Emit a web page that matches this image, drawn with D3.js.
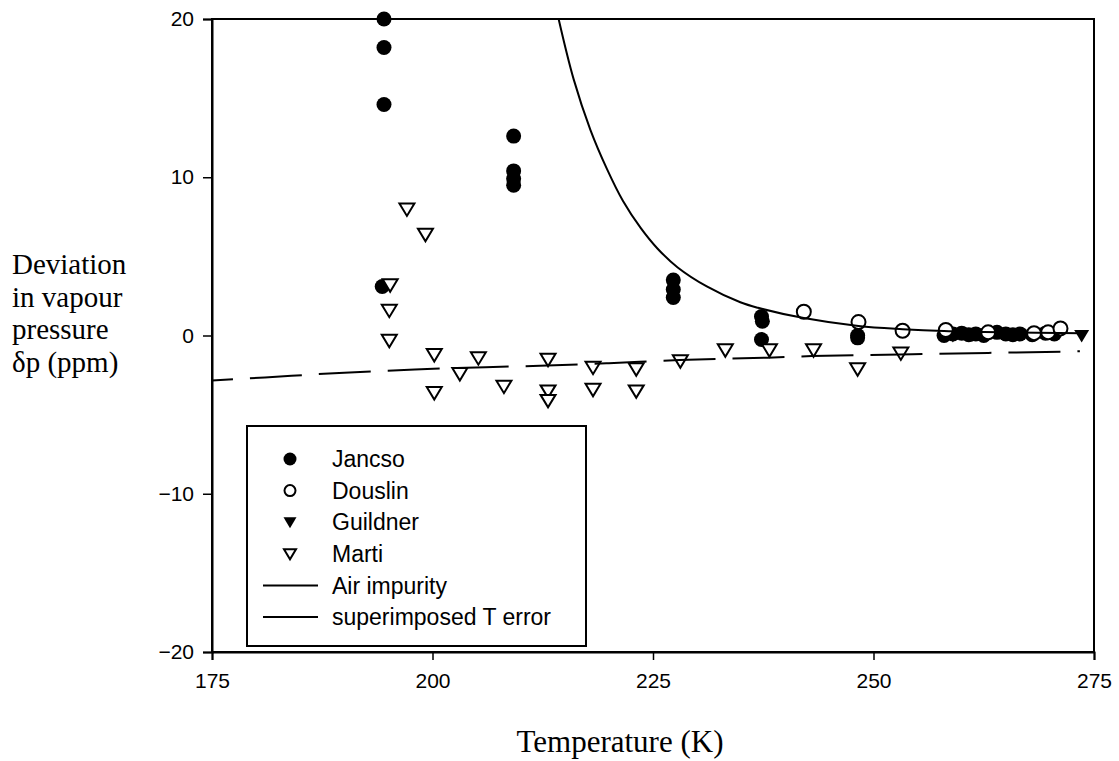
<!DOCTYPE html>
<html><head><meta charset="utf-8">
<script src="https://cdn.jsdelivr.net/npm/d3@7"></script>
<style>
html,body{margin:0;padding:0;background:#fff;}
svg{display:block;}
</style></head>
<body>
<svg id="chart" width="1119" height="761"></svg>
<script>
// ---------- data ----------
const xTicks = [175, 200, 225, 250, 275];
const yTicks = [-20, -10, 0, 10, 20];
const seriesNames = ["Jancso", "Douslin", "Guildner", "Marti", "Air impurity", "superimposed T error"];

const jancsoT  = [194.5,194.5,194.5,194.3,209.2,209.2,209.2,209.2,227.3,227.3,227.3,237.3,237.4,237.3,248.2,248.2,258.0,259.0,260.0,260.8,261.6,262.5,264.0,265.0,265.8,266.6,268.0,269.5,270.5];
const jancsoDp = [20.0,18.2,14.6,3.1,12.6,10.4,9.9,9.5,3.5,2.9,2.4,1.2,0.9,-0.25,0.0,-0.15,0.0,0.1,0.15,0.05,0.1,0.0,0.2,0.1,0.05,0.1,0.05,0.15,0.1];

const douslinT  = [242.1,248.3,253.3,258.2,263.0,268.2,269.8,271.2];
const douslinDp = [1.5,0.85,0.3,0.35,0.2,0.15,0.2,0.45];

const guildnerT  = [259.0,261.2,266.5,273.6];
const guildnerDp = [0.0,0.05,0.05,0.0];

const martiT  = [197.1,199.2,195.2,195.1,195.1,200.2,200.2,203.1,205.2,208.1,213.1,213.1,213.1,218.2,218.2,223.1,223.1,228.1,233.2,238.2,243.2,248.2,253.1];
const martiDp = [8.0,6.4,3.2,1.6,-0.3,-1.2,-3.6,-2.4,-1.4,-3.2,-1.5,-3.5,-4.1,-2.0,-3.4,-2.1,-3.5,-1.6,-0.9,-0.9,-0.9,-2.1,-1.1];

const airT  = [175,181,190,198,206,213,220,228,238,243,253,263,273.4];
const airDp = [-2.85,-2.65,-2.35,-2.15,-2.0,-1.9,-1.75,-1.55,-1.4,-1.3,-1.2,-1.1,-1.0];

const terrT  = [214.3,216.0,217.9,219.8,221.6,223.6,225.5,227.8,231.1,234.9,236.9,242.1,248.3,253.3,258.0,265.0,273.5];
const terrDp = [20,16.2,13.0,10.5,8.5,6.8,5.5,4.3,3.1,2.1,1.75,1.1,0.6,0.4,0.28,0.2,0.15];

const yLabelLines = ["Deviation", "in vapour", "pressure", "\u03b4p (ppm)"];
const xLabel = "Temperature (K)";

// ---------- layout ----------
const L = 212, R = 1094, T = 19, B = 652;
const sans = "'Liberation Sans', Arial, sans-serif";
const serif = "'Liberation Serif', 'Times New Roman', serif";

const svg = d3.select("#chart");
const x = d3.scaleLinear().domain([175, 275]).range([L, R]);
const y = d3.scaleLinear().domain([-20, 20]).range([B, T]);

const zip = (a, b) => a.map((v, i) => [v, b[i]]);

// frame
svg.append("rect").attr("x", L).attr("y", T).attr("width", R - L).attr("height", B - T)
  .attr("fill", "none").attr("stroke", "#000").attr("stroke-width", 2);

// axes
const xAxis = svg.append("g").attr("transform", `translate(0,${B})`)
  .call(d3.axisBottom(x).tickValues(xTicks).tickSize(8).tickPadding(13).tickFormat(d3.format("d")));
const yAxis = svg.append("g").attr("transform", `translate(${L},0)`)
  .call(d3.axisLeft(y).tickValues(yTicks).tickSize(9).tickPadding(9).tickFormat(d3.format("d")));
[xAxis, yAxis].forEach(g => {
  g.attr("font-size", 21).attr("font-family", sans);
  g.select(".domain").attr("stroke", "#000").attr("stroke-width", 2);
  g.selectAll(".tick line").attr("stroke", "#000").attr("stroke-width", 1.5);
  g.selectAll(".tick text").attr("fill", "#000").style("font-family", sans).style("font-size", "21px");
});

// clip
svg.append("clipPath").attr("id", "clip").append("rect")
  .attr("x", L).attr("y", T - 1).attr("width", R - L).attr("height", B - T + 2);

const marks = svg.append("g");

// symbol shapes
const triDown = "M-7.5,-5.5L7.5,-5.5L0,7Z";

// Jancso filled circles
marks.selectAll("circle.jancso").data(zip(jancsoT, jancsoDp)).join("circle")
  .attr("class", "jancso").attr("cx", d => x(d[0])).attr("cy", d => y(d[1]))
  .attr("r", 7.5).attr("fill", "#000");

// Guildner filled triangles
marks.selectAll("path.guildner").data(zip(guildnerT, guildnerDp)).join("path")
  .attr("class", "guildner").attr("d", triDown)
  .attr("transform", d => `translate(${x(d[0])},${y(d[1])})`).attr("fill", "#000");

// Douslin open circles
marks.selectAll("circle.douslin").data(zip(douslinT, douslinDp)).join("circle")
  .attr("class", "douslin").attr("cx", d => x(d[0])).attr("cy", d => y(d[1]))
  .attr("r", 7).attr("fill", "#fff").attr("stroke", "#000").attr("stroke-width", 2);

// Marti open triangles
marks.selectAll("path.marti").data(zip(martiT, martiDp)).join("path")
  .attr("class", "marti").attr("d", triDown)
  .attr("transform", d => `translate(${x(d[0])},${y(d[1])})`)
  .attr("fill", "#fff").attr("stroke", "#000").attr("stroke-width", 2);

// lines
const lineAir = d3.line().x(d => x(d[0])).y(d => y(d[1])).curve(d3.curveMonotoneX);
const lineT = d3.line().x(d => x(d[0])).y(d => y(d[1])).curve(d3.curveCatmullRom.alpha(0.5));
const lines = svg.append("g").attr("clip-path", "url(#clip)");
lines.append("path").datum(zip(airT, airDp)).attr("d", lineAir)
  .attr("fill", "none").attr("stroke", "#000").attr("stroke-width", 2)
  .attr("stroke-dasharray", "52,17").attr("stroke-dashoffset", 31);
lines.append("path").datum(zip(terrT, terrDp)).attr("d", lineT)
  .attr("fill", "none").attr("stroke", "#000").attr("stroke-width", 2);

// legend
const lg = svg.append("g");
lg.append("rect").attr("x", 247).attr("y", 426).attr("width", 339).attr("height", 220)
  .attr("fill", "#fff").attr("stroke", "#000").attr("stroke-width", 2);
const rowY = i => 459 + i * 31.6;
seriesNames.forEach((name, i) => {
  const cy = rowY(i);
  if (i === 0) lg.append("circle").attr("cx", 290).attr("cy", cy).attr("r", 6.5).attr("fill", "#000");
  if (i === 1) lg.append("circle").attr("cx", 290).attr("cy", cy).attr("r", 5.5).attr("fill", "#fff").attr("stroke", "#000").attr("stroke-width", 2);
  if (i === 2) lg.append("path").attr("d", "M-6.5,-5L6.5,-5L0,6Z").attr("transform", `translate(290,${cy})`).attr("fill", "#000");
  if (i === 3) lg.append("path").attr("d", "M-6,-4.5L6,-4.5L0,5.5Z").attr("transform", `translate(290,${cy})`).attr("fill", "#fff").attr("stroke", "#000").attr("stroke-width", 2);
  if (i >= 4) lg.append("line").attr("x1", 263).attr("x2", 318).attr("y1", cy).attr("y2", cy).attr("stroke", "#000").attr("stroke-width", 2);
  lg.append("text").attr("x", 332).attr("y", cy).attr("dy", "0.36em")
    .style("font-family", sans).style("font-size", "23px").text(name);
});

// axis titles (one text per line, spaced so boxes do not overlap)
const yLabelG = svg.append("g");
yLabelLines.forEach((t, i) => yLabelG.append("text").attr("x", 12).attr("y", 274 + i * 32.5)
  .style("font-family", serif).style("font-size", "29px").attr("fill", "#000").text(t));

svg.append("text").attr("x", 620).attr("y", 752).attr("text-anchor", "middle")
  .style("font-family", serif).style("font-size", "31px").attr("fill", "#000").text(xLabel);
</script>
</body></html>
